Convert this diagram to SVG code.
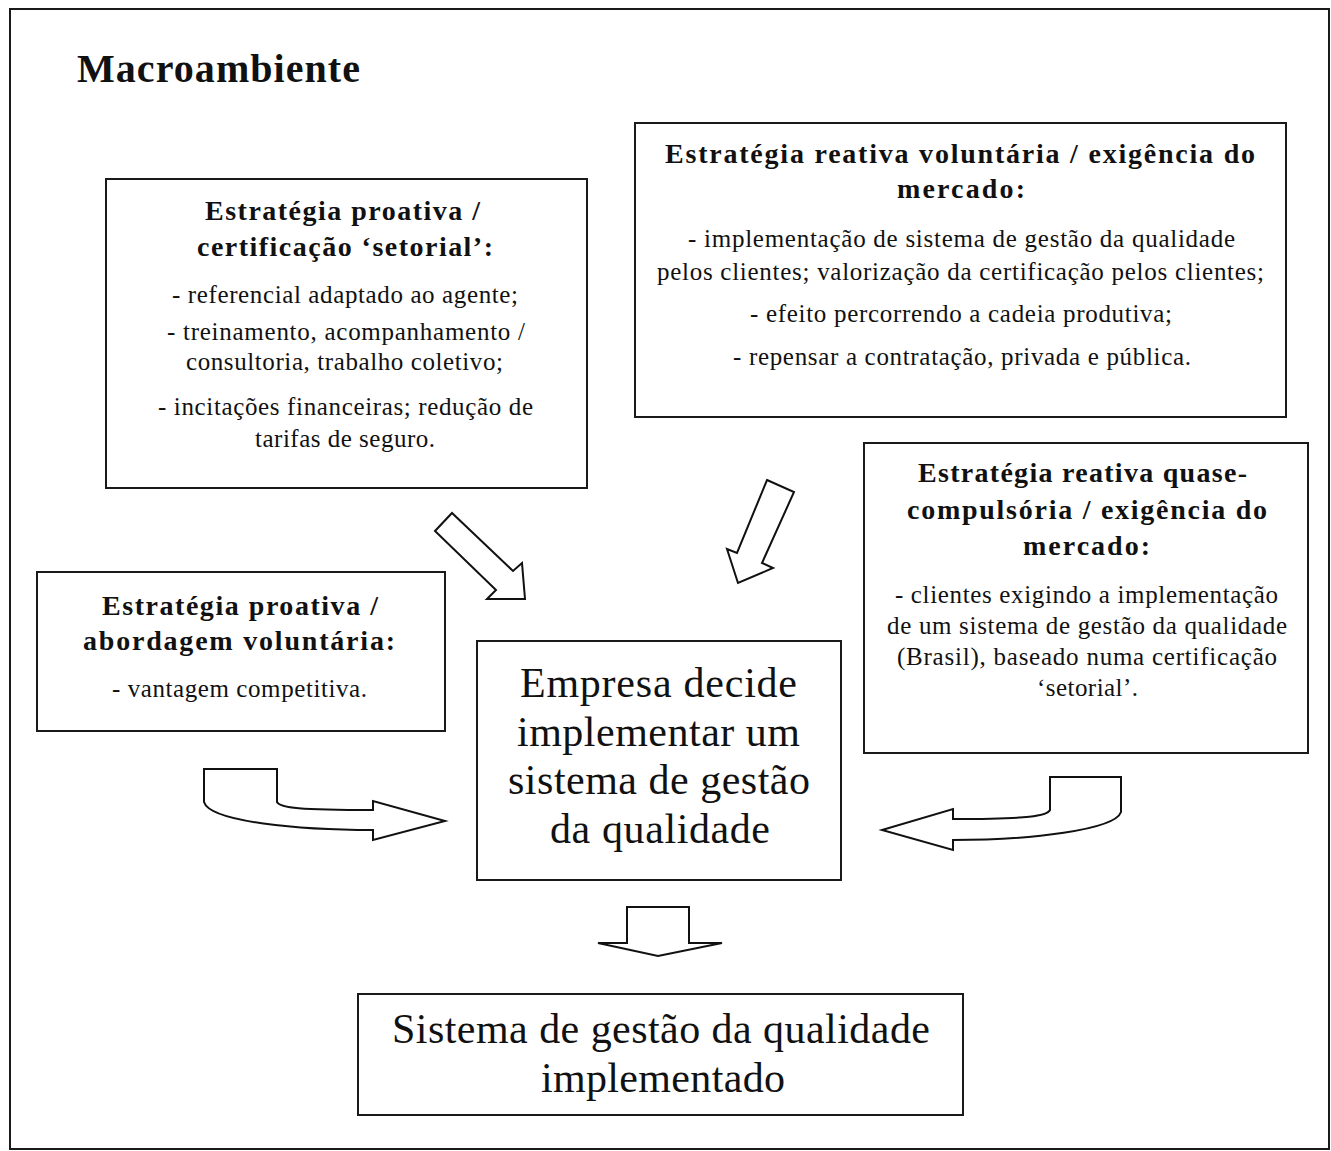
<svg xmlns="http://www.w3.org/2000/svg" width="1331" height="1151" viewBox="0 0 1331 1151">
<defs>
<style>
.frame{fill:none;stroke:#1a1a1a;stroke-width:2}
.box{fill:#ffffff;stroke:#1a1a1a;stroke-width:2}
.arrow{fill:#ffffff;stroke:#111111;stroke-width:2;stroke-linejoin:miter}
text{font-family:"Liberation Serif","Times New Roman",serif;fill:#111111}
.title{font-size:40px;font-weight:bold}
.head{font-size:28px;font-weight:bold;text-anchor:middle}
.body{font-size:25px;text-anchor:middle}
.big{font-size:42px;text-anchor:middle}
</style>
</defs>
<rect width="1331" height="1151" fill="#ffffff"/>
<rect class="frame" x="10" y="9" width="1319" height="1140"/>
<text class="title" x="77" y="82" textLength="283">Macroambiente</text>

<g id="connectors">
<polygon class="arrow" points="435,531 452,513 513,571 522,563 525,599 487,599 496,590"/>
<polygon class="arrow" points="767,480 794,492 762,563 773,568 738,583 727,549 737,553"/>
<path class="arrow" d="M204,769 L277,769 L277,802 C280,808 300,810 373,810 L373,801 L445,821 L373,840 L373,830 C300,830 210,822 204,802 Z"/>
<path class="arrow" d="M1121,777 L1050,777 L1050,810 C1047,816 1030,819 953,819 L953,809 L882,830 L953,850 L953,840 C1030,840 1115,830 1121,812 Z"/>
<path class="arrow" d="M627,907 L689,907 L689,943 L722,943 L658,956 L598,943 L627,943 Z"/>
</g>

<g id="proativa-setorial">
<rect class="box" x="106" y="179" width="481" height="309"/>
<text class="head" x="342.5" y="220" textLength="275">Estratégia proativa /</text>
<text class="head" x="345" y="256" textLength="296">certificação ‘setorial’:</text>
<text class="body" x="345" y="303" textLength="346">- referencial adaptado ao agente;</text>
<text class="body" x="346" y="340" textLength="358">- treinamento, acompanhamento /</text>
<text class="body" x="344.5" y="370" textLength="317">consultoria, trabalho coletivo;</text>
<text class="body" x="345.5" y="415" textLength="375">- incitações financeiras; redução de</text>
<text class="body" x="345" y="447" textLength="180">tarifas de seguro.</text>
</g>

<g id="reativa-voluntaria">
<rect class="box" x="635" y="123" width="651" height="294"/>
<text class="head" x="960" y="163" textLength="590">Estratégia reativa voluntária / exigência do</text>
<text class="head" x="961" y="198" textLength="128">mercado:</text>
<text class="body" x="961.5" y="247" textLength="547">- implementação de sistema de gestão da qualidade</text>
<text class="body" x="960.5" y="280" textLength="607">pelos clientes; valorização da certificação pelos clientes;</text>
<text class="body" x="961" y="322" textLength="422">- efeito percorrendo a cadeia produtiva;</text>
<text class="body" x="962" y="365" textLength="458">- repensar a contratação, privada e pública.</text>
</g>

<g id="proativa-voluntaria">
<rect class="box" x="37" y="572" width="408" height="159"/>
<text class="head" x="240" y="615" textLength="276">Estratégia proativa /</text>
<text class="head" x="239" y="650" textLength="312">abordagem voluntária:</text>
<text class="body" x="239.5" y="697" textLength="255">- vantagem competitiva.</text>
</g>

<g id="reativa-quase-compulsoria">
<rect class="box" x="864" y="443" width="444" height="310"/>
<text class="head" x="1082.5" y="482" textLength="329">Estratégia reativa quase-</text>
<text class="head" x="1087" y="519" textLength="360">compulsória / exigência do</text>
<text class="head" x="1086.5" y="555" textLength="127">mercado:</text>
<text class="body" x="1086.5" y="603" textLength="383">- clientes exigindo a implementação</text>
<text class="body" x="1087" y="634" textLength="400">de um sistema de gestão da qualidade</text>
<text class="body" x="1087" y="665" textLength="380">(Brasil), baseado numa certificação</text>
<text class="body" x="1087.5" y="696" textLength="101">‘setorial’.</text>
</g>

<g id="empresa-decide">
<rect class="box" x="477" y="641" width="364" height="239"/>
<text class="big" x="658.5" y="697" textLength="277">Empresa decide</text>
<text class="big" x="658.5" y="746" textLength="283">implementar um</text>
<text class="big" x="659" y="794" textLength="302">sistema de gestão</text>
<text class="big" x="660" y="843" textLength="220">da qualidade</text>
</g>

<g id="sistema-implementado">
<rect class="box" x="358" y="994" width="605" height="121"/>
<text class="big" x="661" y="1043" textLength="538">Sistema de gestão da qualidade</text>
<text class="big" x="663" y="1092" textLength="244">implementado</text>
</g>
</svg>
